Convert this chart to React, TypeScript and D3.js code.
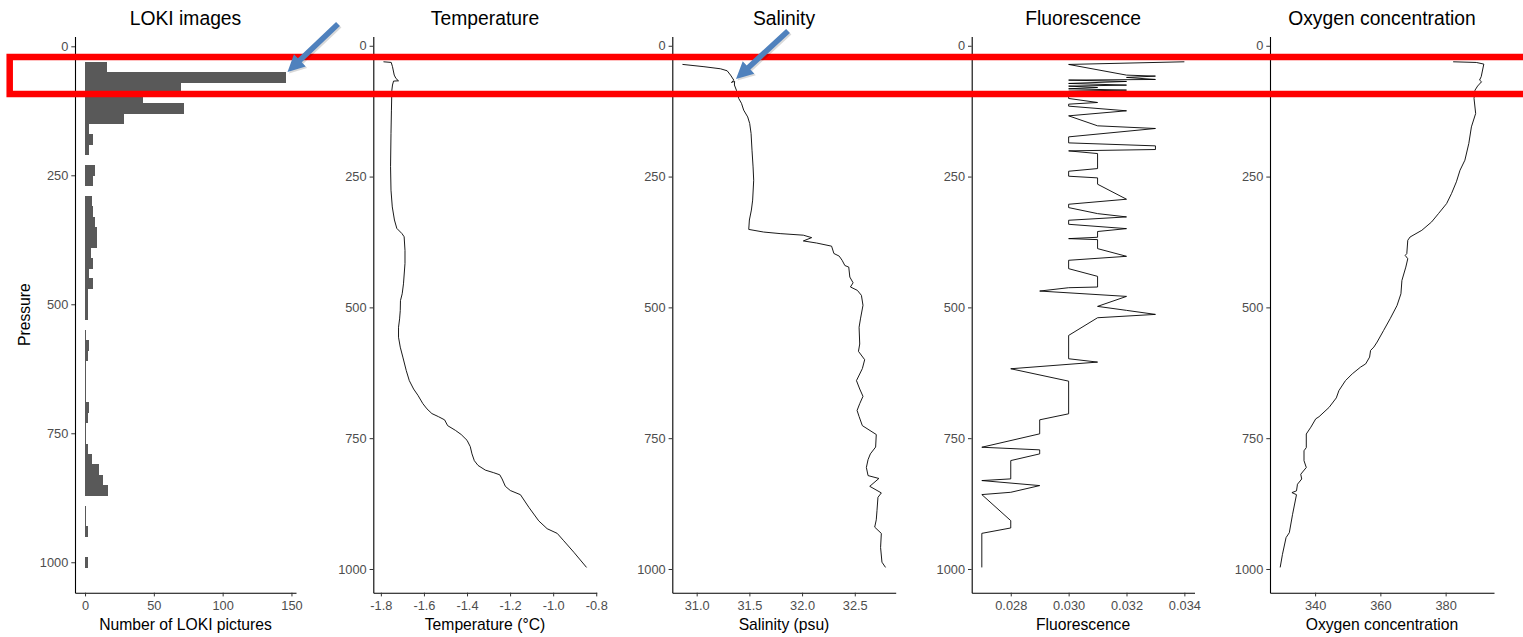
import React, { useEffect, useRef } from 'react';
import * as d3 from 'd3';

// pressure axis (shared by all panels)
const pressureTicks = [0, 250, 500, 750, 1000];

// LOKI histogram: bins of 20 dbar, start of each bin + picture count
const lokiBinWidth = 20;
const lokiBinStart = [
  30, 50, 70, 90, 110, 130, 150, 170, 190, 210, 230, 250, 270, 290, 310, 330, 350,
  370, 390, 410, 430, 450, 470, 490, 510, 530, 550, 570, 590, 610, 630, 650, 670,
  690, 710, 730, 750, 770, 790, 810, 830, 850, 870, 890, 910, 930, 950, 970, 990,
];
const lokiCounts = [
  16, 146, 70, 42, 72, 28, 3, 6, 3, 0, 7, 6, 0, 5, 6, 7, 9,
  9, 4, 6, 3, 6, 2, 2, 2, 0, 1, 3, 2, 1, 1, 1, 1,
  3, 2, 1, 1, 2, 5, 10, 13, 17, 0, 1, 1, 2, 0, 0, 2,
];
const lokiTicks = [0, 50, 100, 150];
const lokiTickLabels = ['0', '50', '100', '150'];

// temperature profile
const tempPressure = [
  30.6, 31.8, 40, 56, 62.5, 67, 67.5, 75, 85, 123, 168, 231, 276, 308, 333, 349, 359,
  365, 391, 416, 455, 474, 487, 506, 522, 538, 557, 576, 595, 621, 640, 656, 668, 684,
  694, 703, 709, 715, 726, 735, 743, 754, 766, 780, 793, 802, 811, 816, 820, 828, 842,
  850, 858, 882, 908, 923, 932, 946, 968, 997,
];
const tempValues = [
  -1.788, -1.752, -1.746, -1.738, -1.73, -1.718, -1.741, -1.746, -1.749, -1.751, -1.753,
  -1.755, -1.753, -1.747, -1.737, -1.726, -1.702, -1.692, -1.688, -1.688, -1.695, -1.701,
  -1.709, -1.71, -1.713, -1.718, -1.718, -1.71, -1.698, -1.682, -1.668, -1.648, -1.628,
  -1.605, -1.586, -1.563, -1.532, -1.504, -1.49, -1.454, -1.427, -1.4, -1.385, -1.377,
  -1.366, -1.349, -1.315, -1.276, -1.248, -1.237, -1.222, -1.199, -1.152, -1.113, -1.067,
  -1.028, -0.981, -0.951, -0.904, -0.845,
];
const tempTicks = [-1.8, -1.6, -1.4, -1.2, -1.0, -0.8];
const tempTickLabels = ['-1.8', '-1.6', '-1.4', '-1.2', '-1.0', '-0.8'];

// salinity profile
const salPressure = [
  35.6, 40, 44, 47.8, 56, 65.6, 70, 68, 75, 85, 100.7, 110, 123, 136, 148.5, 167.6, 199.6,
  231.5, 257, 295, 314, 333, 351, 356, 359, 362, 366.7, 373, 377, 383, 397, 402, 410, 420,
  423, 442, 453, 461, 467.5, 477, 496, 522, 538, 570, 584, 600, 617, 640, 656, 670, 684,
  697, 708.6, 726, 743, 767, 780, 791, 806, 821.5, 827, 842, 854.6, 863, 888, 906, 920,
  932, 959, 987, 997,
];
const salValues = [
  30.865, 31.069, 31.226, 31.289, 31.321, 31.352, 31.33, 31.36, 31.358, 31.377, 31.399,
  31.425, 31.446, 31.484, 31.503, 31.516, 31.525, 31.535, 31.541, 31.531, 31.519, 31.5,
  31.494, 31.635, 31.792, 32.012, 32.091, 32.012, 32.138, 32.28, 32.302, 32.352, 32.38,
  32.406, 32.443, 32.453, 32.484, 32.459, 32.525, 32.563, 32.578, 32.554, 32.541, 32.547,
  32.535, 32.594, 32.572, 32.516, 32.547, 32.578, 32.547, 32.522, 32.541, 32.572, 32.704,
  32.698, 32.648, 32.626, 32.61, 32.626, 32.729, 32.642, 32.752, 32.72, 32.711, 32.704,
  32.689, 32.752, 32.745, 32.758, 32.792,
];
const salTicks = [31.0, 31.5, 32.0, 32.5];
const salTickLabels = ['31.0', '31.5', '32.0', '32.5'];

// fluorescence profile
const fluoPressure = [
  30.6, 35.7, 56.1, 58, 60.5, 64.4, 65.6, 68.2, 72, 75.2, 77.1, 79.7, 82.2, 84.8, 86.7,
  100.7, 108.4, 111.6, 115.4, 124.3, 133.9, 153, 158.1, 174.1, 185.6, 191.3, 198.3, 200.9,
  206, 234.7, 239.8, 249.3, 252.5, 264.6, 293.3, 302.9, 309.3, 320.8, 327.1, 333.5, 341.2,
  349.5, 355, 366, 368.6, 370.5, 387.7, 402.4, 410, 426, 440.7, 461.1, 462.4, 468.8, 479,
  498.1, 505.7, 513.4, 519.8, 553.6, 598.2, 604.6, 617.3, 641, 703.4, 714.9, 741.7, 767.3,
  772.3, 780, 792.8, 827.8, 831, 840.6, 853.4, 857.8, 907.6, 921.6, 931.9, 997,
];
const fluoValues = [
  0.034, 0.03, 0.032, 0.033, 0.032, 0.033, 0.03, 0.032, 0.03, 0.032, 0.03, 0.031, 0.03,
  0.032, 0.03, 0.03, 0.031, 0.03, 0.03, 0.032, 0.03, 0.031, 0.033, 0.03, 0.03, 0.033,
  0.033, 0.03, 0.031, 0.031, 0.03, 0.03, 0.031, 0.031, 0.032, 0.03, 0.03, 0.031, 0.032,
  0.03, 0.03, 0.032, 0.031, 0.031, 0.03, 0.031, 0.031, 0.032, 0.03, 0.03, 0.031, 0.031,
  0.03, 0.029, 0.032, 0.031, 0.032, 0.033, 0.031, 0.03, 0.03, 0.031, 0.028, 0.03, 0.03,
  0.029, 0.029, 0.027, 0.029, 0.029, 0.028, 0.028, 0.027, 0.029, 0.028, 0.027, 0.028,
  0.028, 0.027, 0.027,
];
const fluoTicks = [0.028, 0.03, 0.032, 0.034];
const fluoTickLabels = ['0.028', '0.030', '0.032', '0.034'];

// oxygen profile
const oxyPressure = [
  30.6, 31.9, 35, 59, 65.6, 68.8, 77, 84.8, 100.7, 129.4, 155, 186.8, 218.7, 238, 260,
  282.5, 301.6, 320.8, 336.7, 352.7, 365.5, 371.8, 397.3, 400.6, 407, 423, 448.5, 474,
  496.5, 521.6, 544, 566.3, 575.9, 582.3, 595, 608, 614.3, 627, 640, 659, 673, 691, 709,
  713, 729, 742, 768, 774, 793, 806, 819, 828, 838, 850.7, 854, 858, 895.5, 930.6, 940,
  972, 997,
];
const oxyValues = [
  382.3, 389.4, 391.7, 390.9, 390.4, 391, 389.8, 389, 388.7, 389.2, 387.9, 387.1, 385.9,
  384.4, 383.3, 381.8, 380.3, 377.8, 375.7, 372.7, 369.1, 368.4, 368.1, 367.6, 368.4,
  367.8, 366.6, 366.3, 365.1, 363, 361, 359, 358, 357, 356.7, 355.5, 353.9, 351.4, 349.3,
  347.3, 346.5, 344.3, 341.2, 340.2, 338.7, 337.3, 337.3, 336.6, 336.6, 337.3, 335.6,
  335.9, 334.6, 334.3, 332.9, 334.3, 333.1, 332.1, 331.1, 330, 329.3,
];
const oxyTicks = [340, 360, 380];
const oxyTickLabels = ['340', '360', '380'];

const FONT = 'Liberation Sans, Arial, sans-serif';

// ggplot-like 5% expansion
const expand = (ext: [number, number]): [number, number] => {
  const pad = (ext[1] - ext[0]) * 0.05;
  return [ext[0] - pad, ext[1] + pad];
};

export default function App() {
  const ref = useRef<SVGSVGElement>(null);

  useEffect(() => {
    drawChart();
  }, []);

  function drawChart() {
    const svg = d3.select(ref.current);
    svg.selectAll('*').remove();

    const top = 36.5;
    const bottom = 592.7;

    const drawAxes = (g: any, x: any, y: any, xTicks: number[], xLabels: string[]) => {
      const ya = g.append('g')
        .call(d3.axisLeft(y).tickValues(pressureTicks).tickSize(3.7).tickSizeOuter(0).tickPadding(3).tickFormat((d: any) => String(d)));
      const xa = g.append('g')
        .attr('transform', `translate(0,${bottom})`)
        .call(d3.axisBottom(x).tickValues(xTicks).tickSize(3.7).tickSizeOuter(0).tickPadding(5)
          .tickFormat((d: any, i: number) => xLabels[i]));
      [ya, xa].forEach((a: any) => {
        a.select('.domain').attr('stroke', '#000').attr('stroke-width', 1.1);
        a.selectAll('.tick line').attr('stroke', '#333').attr('stroke-width', 1);
        a.selectAll('.tick text').attr('fill', '#4D4D4D').style('font-family', FONT).style('font-size', '12.8px');
      });
    };

    const titles = (g: any, cx: number, title: string, xLabel: string) => {
      g.append('text').attr('x', cx).attr('y', 25).attr('text-anchor', 'middle')
        .style('font-family', FONT).style('font-size', '19.3px').attr('fill', '#000').text(title);
      g.append('text').attr('x', cx).attr('y', 630).attr('text-anchor', 'middle')
        .style('font-family', FONT).style('font-size', '15.7px').attr('fill', '#000').text(xLabel);
    };

    // ---- panel 1: LOKI histogram
    const p1 = svg.append('g');
    const lokiLeft = 75, lokiWidth = 221;
    const yLoki = d3.scaleLinear()
      .domain(expand([d3.min(lokiBinStart)!, d3.max(lokiBinStart)! + lokiBinWidth]))
      .range([top, bottom]);
    const xLoki = d3.scaleLinear()
      .domain(expand([0, d3.max(lokiCounts)!]))
      .range([lokiLeft, lokiLeft + lokiWidth]);
    p1.append('g').selectAll('rect')
      .data(lokiBinStart.map((s, i) => ({ s, c: lokiCounts[i] })).filter(d => d.c > 0))
      .enter().append('rect')
      .attr('x', xLoki(0))
      .attr('y', d => yLoki(d.s))
      .attr('width', d => xLoki(d.c) - xLoki(0))
      .attr('height', d => yLoki(d.s + lokiBinWidth) - yLoki(d.s) + 0.4)
      .attr('shape-rendering', 'crispEdges')
      .attr('fill', '#595959');
    const a1 = p1.append('g').attr('transform', `translate(${lokiLeft},0)`);
    drawAxes(a1, xLoki.copy().range([0, lokiWidth]), yLoki, lokiTicks, lokiTickLabels);
    titles(p1, lokiLeft + lokiWidth / 2, 'LOKI images', 'Number of LOKI pictures');
    p1.append('text')
      .attr('transform', `translate(30,${(top + bottom) / 2}) rotate(-90)`)
      .attr('text-anchor', 'middle')
      .style('font-family', FONT).style('font-size', '15.7px').attr('fill', '#000')
      .text('Pressure');

    // ---- profile panels
    const allP = [...tempPressure, ...salPressure, ...fluoPressure, ...oxyPressure];
    const yProf = d3.scaleLinear()
      .domain(expand([d3.min(allP)!, d3.max(allP)!]))
      .range([top, bottom]);

    const profiles = [
      { left: 373.3, width: 223.4, p: tempPressure, v: tempValues, ticks: tempTicks, labels: tempTickLabels, title: 'Temperature', xLabel: 'Temperature (°C)' },
      { left: 672.3, width: 223.4, p: salPressure, v: salValues, ticks: salTicks, labels: salTickLabels, title: 'Salinity', xLabel: 'Salinity (psu)' },
      { left: 971.7, width: 222.8, p: fluoPressure, v: fluoValues, ticks: fluoTicks, labels: fluoTickLabels, title: 'Fluorescence', xLabel: 'Fluorescence' },
      { left: 1270, width: 224, p: oxyPressure, v: oxyValues, ticks: oxyTicks, labels: oxyTickLabels, title: 'Oxygen concentration', xLabel: 'Oxygen concentration' },
    ];

    profiles.forEach(pr => {
      const g = svg.append('g').attr('transform', `translate(${pr.left},0)`);
      const x = d3.scaleLinear()
        .domain(expand([d3.min(pr.v)!, d3.max(pr.v)!]))
        .range([0, pr.width]);
      const line = d3.line<number>()
        .x((d, i) => x(pr.v[i]))
        .y(d => yProf(d));
      g.append('path')
        .datum(pr.p)
        .attr('fill', 'none')
        .attr('stroke', '#000')
        .attr('stroke-width', 0.9)
        .attr('stroke-linejoin', 'round')
        .attr('d', line);
      drawAxes(g, x, yProf, pr.ticks, pr.labels);
      titles(g, pr.width / 2, pr.title, pr.xLabel);
    });

    // ---- annotations: red box and blue arrows
    svg.append('rect')
      .attr('x', 9.7).attr('y', 57).attr('width', 1600).attr('height', 37)
      .attr('fill', 'none').attr('stroke', '#FF0000').attr('stroke-width', 6.5);

    const arrow = (x1: number, y1: number, x2: number, y2: number) => {
      const dx = x2 - x1, dy = y2 - y1;
      const len = Math.hypot(dx, dy);
      const ux = dx / len, uy = dy / len;
      const nx = -uy, ny = ux;
      const w = 2.8, hl = 17, hw = 8.5;
      const bx = x2 - ux * hl, by = y2 - uy * hl;
      const pts = [
        [x1 + nx * w, y1 + ny * w], [bx + nx * w, by + ny * w], [bx + nx * hw, by + ny * hw],
        [x2, y2], [bx - nx * hw, by - ny * hw], [bx - nx * w, by - ny * w], [x1 - nx * w, y1 - ny * w],
      ];
      svg.append('polygon')
        .attr('points', pts.map(p => [p[0] + 1.5, p[1] + 1.5].join(',')).join(' '))
        .attr('fill', 'rgba(0,0,0,0.15)');
      svg.append('polygon')
        .attr('points', pts.map(p => p.join(',')).join(' '))
        .attr('fill', '#4F81BD');
    };
    arrow(338, 24, 287.5, 72);
    arrow(788, 31, 736, 79);
  }

  return (
    <svg
      ref={ref}
      width={1523}
      height={637}
      style={{ position: 'absolute', left: 0, top: 0, background: '#fff' }}
    />
  );
}
